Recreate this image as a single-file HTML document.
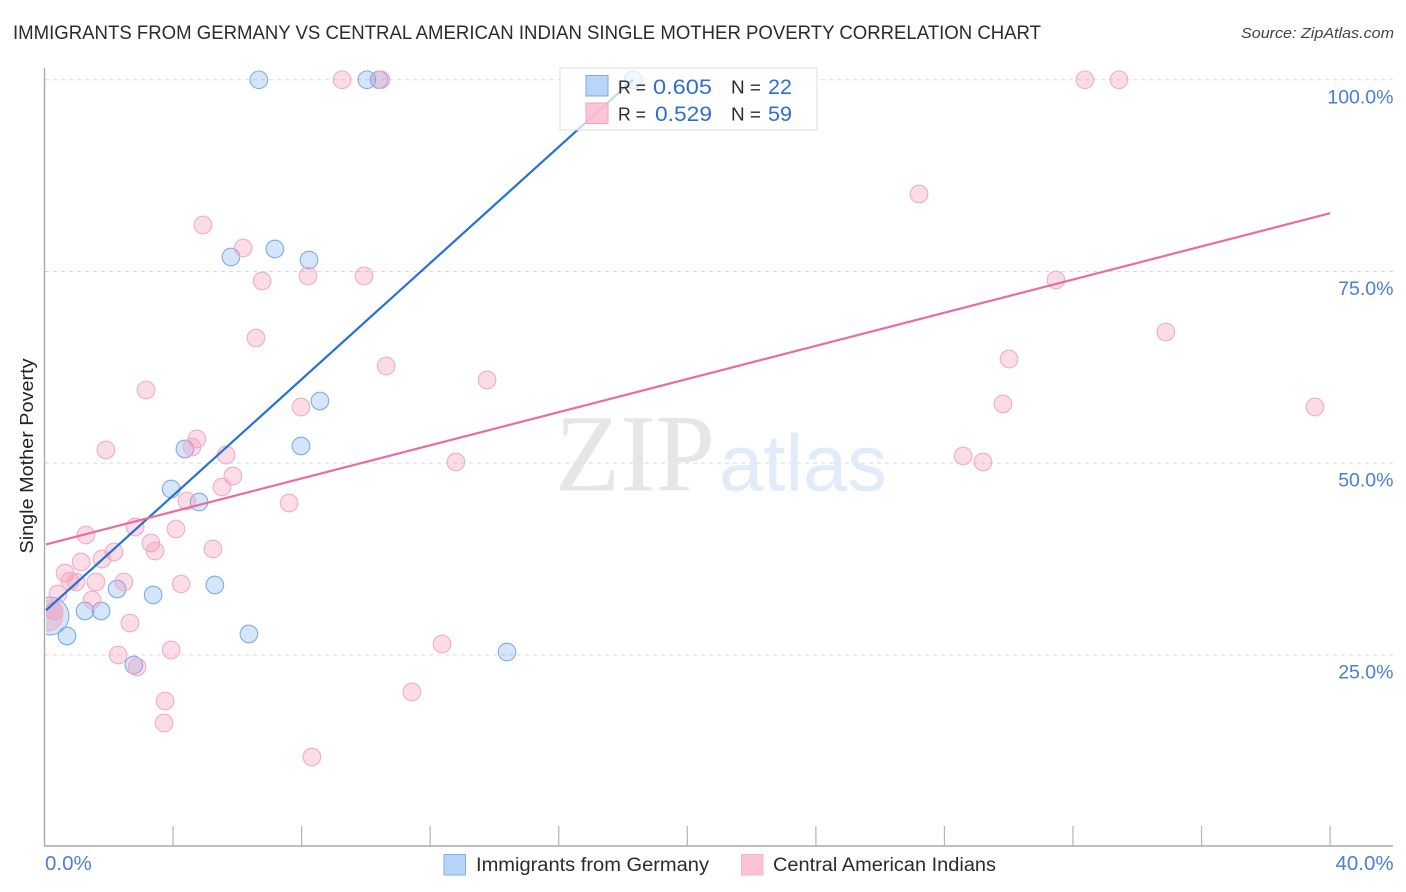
<!DOCTYPE html>
<html lang="en">
<head>
<meta charset="utf-8">
<title>Immigrants from Germany vs Central American Indian Single Mother Poverty Correlation Chart</title>
<style>
html,body{margin:0;padding:0;background:#fff;width:1406px;height:892px;overflow:hidden}
svg{display:block;font-family:"Liberation Sans",sans-serif}
</style>
</head>
<body>
<svg id="chart" xmlns="http://www.w3.org/2000/svg" width="1406" height="892" viewBox="0 0 1406 892">
  <defs><clipPath id="plot-clip"><rect x="46" y="60" width="1360" height="786"/></clipPath></defs>
  <text x="13" y="39" font-size="19.5" fill="#2b2b2b" textLength="1028" lengthAdjust="spacingAndGlyphs">IMMIGRANTS FROM GERMANY VS CENTRAL AMERICAN INDIAN SINGLE MOTHER POVERTY CORRELATION CHART</text>
  <text x="1394" y="38" font-size="15" font-style="italic" fill="#444" text-anchor="end" textLength="153" lengthAdjust="spacingAndGlyphs">Source: ZipAtlas.com</text>
  <text transform="translate(33,456) rotate(-90)" font-size="18" fill="#222" text-anchor="middle" textLength="195" lengthAdjust="spacingAndGlyphs">Single Mother Poverty</text>
  <g id="grid"></g>
  <g>
    <text x="555" y="490.5" font-family="'Liberation Serif',serif" font-size="110" fill="#e6e6e6" textLength="160" lengthAdjust="spacingAndGlyphs">ZIP</text>
    <text x="719" y="490.5" font-size="80" fill="#e2ebf9" textLength="168" lengthAdjust="spacingAndGlyphs">atlas</text>
  </g>
  <g id="axes"></g>
  <g id="points" clip-path="url(#plot-clip)"></g>
  <g id="trends"></g>
  <g id="ticklabels"></g>

  <g>
    <rect x="560" y="68" width="257" height="62" fill="#fff" fill-opacity="0.72" stroke="#dcdcdc" stroke-width="1"/>
    <rect x="586" y="75.5" width="22" height="20.5" fill="#a5c9f7" stroke="#7ea8e4" fill-opacity="0.78"/>
    <rect x="586" y="103" width="22" height="20.5" fill="#fcb4cb" stroke="#f0a5bd" fill-opacity="0.78"/>
    <g font-size="18.5" fill="#2b2b2b">
      <text x="618" y="93.5" textLength="28" lengthAdjust="spacingAndGlyphs">R =</text>
      <text x="731" y="93.5" textLength="30" lengthAdjust="spacingAndGlyphs">N =</text>
      <text x="618" y="120.5" textLength="28" lengthAdjust="spacingAndGlyphs">R =</text>
      <text x="731" y="120.5" textLength="30" lengthAdjust="spacingAndGlyphs">N =</text>
    </g>
    <g font-size="21.5" fill="#2f6fd0">
      <text x="653" y="94" textLength="59" lengthAdjust="spacingAndGlyphs">0.605</text>
      <text x="768" y="94" textLength="24" lengthAdjust="spacingAndGlyphs">22</text>
      <text x="655" y="121" textLength="57" lengthAdjust="spacingAndGlyphs">0.529</text>
      <text x="768" y="121" textLength="24" lengthAdjust="spacingAndGlyphs">59</text>
    </g>
  </g>

  <g>
    <rect x="444" y="854.5" width="21.5" height="20.5" fill="#b6d3f8" stroke="#86aee6"/>
    <text x="476" y="871" font-size="19" fill="#2b2b2b" textLength="233" lengthAdjust="spacingAndGlyphs">Immigrants from Germany</text>
    <rect x="741.5" y="854.5" width="21.5" height="20.5" fill="#fdc3d5" stroke="#f2b5c9"/>
    <text x="773" y="871" font-size="19" fill="#2b2b2b" textLength="223" lengthAdjust="spacingAndGlyphs">Central American Indians</text>
  </g>
</svg>
<script>
// x = share of immigrants from Germany (%), y = single mother poverty (%)
const germanyX = [6.67,10.03,10.41,18.31,7.17,5.80,8.23,8.57,7.98,4.37,3.94,4.81,5.30,3.38,2.26,1.26,1.76,0.70,6.36,14.39,2.78,0.17];
const germanyY = [100,100,100,100,77.93,76.89,76.50,58.11,52.24,51.85,46.63,44.93,34.11,32.80,33.59,30.72,30.72,27.46,27.72,25.37,23.67,30.06];
const germanyWeight = [1,1,1,1,1,1,1,1,1,1,1,1,1,1,1,1,1,1,1,1,1,2.15];
const centralX = [9.26,10.47,32.37,33.43,27.21,4.93,6.18,9.94,8.20,6.77,6.58,31.47,34.89,30.01,10.63,13.77,3.16,39.53,29.82,7.98,4.74,4.59,1.91,5.65,28.58,12.80,29.20,5.86,5.52,7.61,4.43,2.82,4.09,1.29,3.31,5.24,3.44,2.16,1.79,1.14,0.64,0.79,0.98,1.60,2.47,4.25,0.42,1.48,0.30,2.66,12.37,3.94,2.29,2.88,11.43,3.75,3.72,8.32,0.09];
const centralY = [100,100,100,100,85.11,81.06,78.06,74.41,74.41,73.76,66.32,73.89,67.11,63.58,62.67,60.85,59.54,57.32,57.72,57.32,53.15,52.11,51.72,51.06,50.93,50.15,50.15,48.32,46.89,44.80,45.06,41.67,41.41,40.63,39.59,38.80,38.54,38.41,37.50,37.11,35.67,34.63,34.50,34.50,34.50,34.24,32.93,32.15,30.72,29.15,26.41,25.63,24.98,23.41,20.15,18.98,16.11,11.67,30.13];
const centralWeight = [1,1,1,1,1,1,1,1,1,1,1,1,1,1,1,1,1,1,1,1,1,1,1,1,1,1,1,1,1,1,1,1,1,1,1,1,1,1,1,1,1,1,1,1,1,1,1,1,1,1,1,1,1,1,1,1,1,1,1.75];
const germanyTrendX = [0, 18.31];
const germanyTrendY = [30.8, 100];
const centralTrendX = [0, 40];
const centralTrendY = [39.4, 82.6];
const yTicks = [25, 50, 75, 100];
const yTickLabels = ["25.0%", "50.0%", "75.0%", "100.0%"];
const xTicks = [4, 8, 12, 16, 20, 24, 28, 32, 36, 40];
const xEndTicks = [0, 40];
const xEndLabels = ["0.0%", "40.0%"];

const NS = "http://www.w3.org/2000/svg";
const sx = v => 44.5 + v * 32.14;
const sy = v => 846.5 - v * 7.667;
function mk(parent, tag, attrs) {
  const el = document.createElementNS(NS, tag);
  for (const k in attrs) el.setAttribute(k, attrs[k]);
  parent.appendChild(el);
  return el;
}

const grid = document.getElementById("grid");
yTicks.forEach(t => {
  const l = mk(grid, "line", {x1: 45, x2: 1393, y1: sy(t), y2: sy(t), stroke: "#d9d9d9", "stroke-width": 1, "stroke-dasharray": "4 4"});
  
  
});

const axes = document.getElementById("axes");
const yAxis = mk(axes, "line", {x1: 44.5, x2: 44.5, y1: 68, y2: 846.5, stroke: "#a8a8a8", "stroke-width": 1.4});


const xAxis = mk(axes, "line", {x1: 44, x2: 1393, y1: 846, y2: 846, stroke: "#a8a8a8", "stroke-width": 1.4});


xTicks.forEach(t => {
  const l = mk(axes, "line", {x1: sx(t), x2: sx(t), y1: 826, y2: 846, stroke: "#b4b4b4", "stroke-width": 1.2});
  
  
});

const pts = document.getElementById("points");
germanyX.forEach((v, i) => {
  const c = mk(pts, "circle", {cx: sx(v), cy: sy(germanyY[i]), r: 8.8 * germanyWeight[i], fill: "#5b9bea", "fill-opacity": 0.26, stroke: "#7dade9", "stroke-width": 1.1});
  
  
});
centralX.forEach((v, i) => {
  const c = mk(pts, "circle", {cx: sx(v), cy: sy(centralY[i]), r: 8.8 * centralWeight[i], fill: "#f48cae", "fill-opacity": 0.3, stroke: "#f2adc4", "stroke-width": 1.1});
  
  
});

const trends = document.getElementById("trends");
const t1 = mk(trends, "line", {x1: sx(germanyTrendX[0]) + 1.5, y1: sy(germanyTrendY[0]), x2: sx(germanyTrendX[1]), y2: sy(germanyTrendY[1]), stroke: "#2272d8", "stroke-width": 2.2});


const t2 = mk(trends, "line", {x1: sx(centralTrendX[0]) + 1.5, y1: sy(centralTrendY[0]), x2: sx(centralTrendX[1]), y2: sy(centralTrendY[1]), stroke: "#e96c9c", "stroke-width": 2.2});



const labels = document.getElementById("ticklabels");
yTicks.forEach((t, i) => {
  const el = mk(labels, "text", {x: 1393.5, y: sy(t) + 23.5, "font-size": 19.5, fill: "#4a7ed8", "text-anchor": "end"});
  
  
  el.textContent = yTickLabels[i];
});
xEndTicks.forEach((t, i) => {
  const el = mk(labels, "text", {x: i === 0 ? sx(t) + 0.5 : sx(t) + 63.5, y: 870, "font-size": 20.5, fill: "#4a7ed8", "text-anchor": i === 0 ? "start" : "end"});
  
  
  el.textContent = xEndLabels[i];
});
</script>
</body>
</html>
